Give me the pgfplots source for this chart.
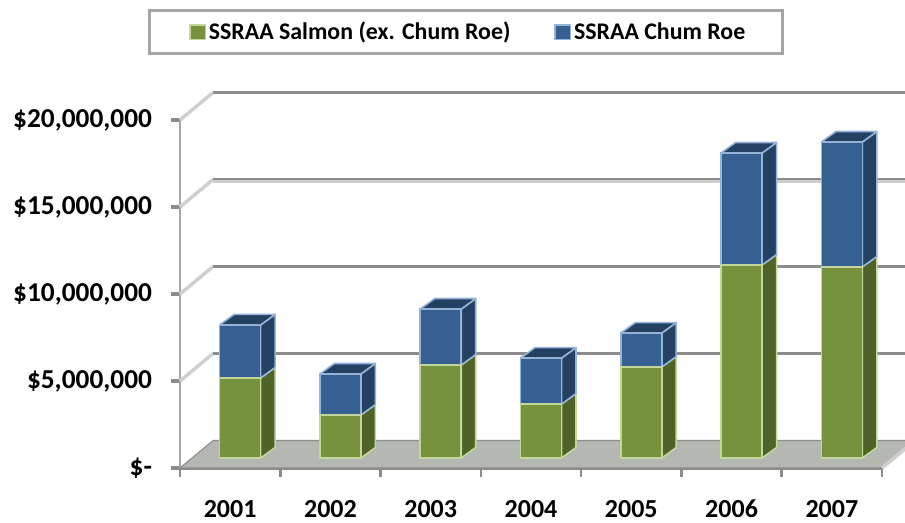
\documentclass[border=0pt]{standalone}
\usepackage{fontspec}
\setmainfont{Carlito}
\usepackage{pgfplots}
\usepackage{pgfplotstable}
\pgfplotsset{compat=1.18}

% values in millions of dollars
\pgfplotstableread{
idx year green blue
0 2001 4.60 3.05
1 2002 2.47 2.36
2 2003 5.34 3.22
3 2004 3.10 2.64
4 2005 5.23 1.95
5 2006 11.09 6.44
6 2007 10.98 7.18
}\salmon

\definecolor{grn}{HTML}{76923C}
\definecolor{grnside}{HTML}{4F6228}
\definecolor{grnedge}{HTML}{C3D69B}
\definecolor{blu}{HTML}{366092}
\definecolor{bluside}{HTML}{244062}
\definecolor{bluedge}{HTML}{95B3D7}
\definecolor{gridd}{HTML}{8C8C8C}
\definecolor{gridl}{HTML}{CFCFCF}
\definecolor{wall}{HTML}{A6A6A6}
\definecolor{floorc}{HTML}{B5B7B2}

% 1 px of the reference = 0.75pt
\pgfplotsset{
  panel/.style={
    scale only axis, width=526.5pt, height=261pt, anchor=south west,
    xmin=-0.5, xmax=6.5, ymin=0, ymax=20, clip=false},
}

\begin{document}
\begin{tikzpicture}
\useasboundingbox (0,0) rectangle (678.75pt,392.25pt);
\clip (0,0) rectangle (678.75pt,392.25pt);

% walls, floor, ticks
\begin{axis}[panel, at={(135pt,41.25pt)},
  axis x line=bottom, axis y line=left,
  x axis line style={-, draw=gridd, line width=3pt},
  y axis line style={-, draw=wall, line width=2pt},
  xtick={0,...,6}, xticklabels={2001,2002,2003,2004,2005,2006,2007},
  minor xtick={-0.5,0.5,...,6.5},
  major x tick style={draw=none},
  minor x tick style={draw=gridd, line width=2pt},
  minor tick length=7pt,
  ytick={0,5,10,15,20},
  yticklabels={{\$-},{\$5,000,000},{\$10,000,000},{\$15,000,000},{\$20,000,000}},
  y tick style={draw=gridd, line width=3pt},
  major tick length=7pt,
  tick align=outside,
  x tick label style={font=\bfseries\fontsize{19.5}{20}\selectfont, yshift=-13.5pt},
  y tick label style={font=\bfseries\fontsize{20.5}{20}\selectfont, anchor=east, xshift=-10.5pt},
]
\addplot[fill=floorc, draw=gridd, line width=0.8pt] coordinates {(-0.5,0) (6.5,0) (6.83,1.58) (-0.17,1.58)} --cycle;
% back wall lines
\addplot[gridl, line width=2.6pt] coordinates {(-0.5,5) (-0.17,6.58)};
\addplot[gridl, line width=2.6pt] coordinates {(-0.5,10) (-0.17,11.58)};
\addplot[gridl, line width=2.6pt] coordinates {(-0.5,15) (-0.17,16.58)};
\addplot[gridl, line width=2.6pt] coordinates {(-0.5,20) (-0.17,21.58)};
\addplot[gridl, line width=2.6pt] coordinates {(6.5,0) (6.83,1.58)};
\addplot[gridl, line width=3pt] coordinates {(-0.17,16.5) (6.83,16.5)};
\addplot[gridd, line width=2.6pt] coordinates {(-0.17,6.58) (6.83,6.58)};
\addplot[gridd, line width=2.6pt] coordinates {(-0.17,11.58) (6.83,11.58)};
\addplot[gridd, line width=1.6pt] coordinates {(-0.17,16.62) (6.83,16.62)};
\addplot[gridd, line width=2.6pt] coordinates {(-0.17,21.58) (6.83,21.58)};
\end{axis}

% side and top faces of the bars
\begin{axis}[panel, at={(142.5pt,48.75pt)}, hide axis]
\pgfplotsforeachungrouped \i in {0,...,6}{
  \pgfplotstablegetelem{\i}{green}\of\salmon \let\g\pgfplotsretval
  \pgfplotstablegetelem{\i}{blue}\of\salmon \let\b\pgfplotsretval
  \pgfmathsetmacro\xr{\i+0.2044}
  \pgfmathsetmacro\xl{\i-0.2044}
  \pgfmathsetmacro\xrb{\xr+0.1446}
  \pgfmathsetmacro\xlb{\xl+0.1446}
  \pgfmathsetmacro\yt{\g+\b}
  \pgfmathsetmacro\ygb{\g+0.6035}
  \pgfmathsetmacro\ytb{\yt+0.6035}
  \addplot[fill=grnside, draw=grnedge, line width=1.2pt, line join=round]
    coordinates {(\xr,0) (\xrb,0.6035) (\xrb,\ygb) (\xr,\g)} --cycle;
  \addplot[fill=bluside, draw=bluedge, line width=1.2pt, line join=round]
    coordinates {(\xr,\g) (\xrb,\ygb) (\xrb,\ytb) (\xr,\yt)} --cycle;
  \addplot[fill=bluside, draw=bluedge, line width=1.2pt, line join=round]
    coordinates {(\xl,\yt) (\xr,\yt) (\xrb,\ytb) (\xlb,\ytb)} --cycle;
}
\end{axis}

% front faces and legend
\begin{axis}[panel, at={(142.5pt,48.75pt)}, hide axis,
  ybar stacked, bar width=30.75pt,
  legend columns=2,
  legend style={at={(0.393,1.224)}, anchor=center, draw=wall, line width=2.2pt,
    inner xsep=26pt, inner ysep=7pt,
    font=\bfseries\fontsize{17.9}{20}\selectfont,
    /tikz/every even column/.append style={column sep=27pt}},
  legend image code/.code={
    \path (-4pt,0pt);
    \draw[#1, line width=1.2pt] (0pt,-5.5pt) rectangle (11.5pt,5.5pt);},
]
\addplot[fill=grn, draw=grnedge, line width=1.2pt] table[x=idx, y=green] {\salmon};
\addlegendentry{SSRAA Salmon (ex. Chum Roe)}
\addplot[fill=blu, draw=bluedge, line width=1.2pt] table[x=idx, y=blue] {\salmon};
\addlegendentry{SSRAA Chum Roe}
\end{axis}
\end{tikzpicture}
\end{document}
